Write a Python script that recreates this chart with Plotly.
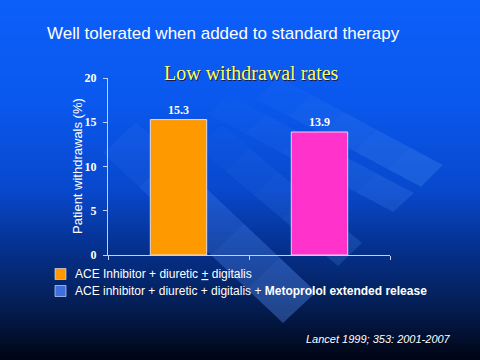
import plotly.graph_objects as go

# ---- data ----
categories = ["ACE Inhibitor + diuretic ± digitalis",
              "ACE inhibitor + diuretic + digitalis + Metoprolol extended release"]
withdrawals = [15.3, 13.9]
bar_colors = ["#FF9900", "#FF33CC"]
y_ticks = [0, 5, 10, 15, 20]
legend_labels = ["ACE Inhibitor + diuretic <u>+</u> digitalis",
                 "ACE inhibitor + diuretic + digitalis + <b>Metoprolol extended release</b>"]
legend_colors = ["#FF9900", "#3D6FE0"]

W, H = 480, 360
L, R, T, B = 108, 90, 78, 105
PW, PH = W - L - R, H - T - B


def px(x):
    return (x - L) / PW


def py(y):
    return (H - B - y) / PH


fig = go.Figure()
fig.add_trace(go.Bar(
    x=[0, 1], y=withdrawals,
    marker=dict(color=bar_colors, line=dict(color="rgba(235,235,255,0.85)", width=1)),
    text=[f"{v:.1f}" for v in withdrawals], textposition="outside",
    textfont=dict(family="Liberation Serif", size=12, color="white", weight="bold"),
    cliponaxis=False, width=0.4, showlegend=False, hoverinfo="skip",
))

shapes = []
# background vertical gradient (styling)
stops = [(0, (12, 95, 250)), (100, (10, 88, 238)), (190, (8, 72, 205)),
         (250, (5, 48, 140)), (300, (4, 32, 90)), (335, (2, 16, 50)), (360, (0, 4, 18))]


def col_at(y):
    for (y0, c0), (y1, c1) in zip(stops[:-1], stops[1:]):
        if y0 <= y <= y1:
            f = (y - y0) / (y1 - y0)
            return tuple(int(round(a + (b - a) * f)) for a, b in zip(c0, c1))
    return stops[-1][1]


step = 4
for y0 in range(0, H, step):
    c = col_at(y0 + step / 2)
    shapes.append(dict(type="rect", xref="paper", yref="paper", layer="below",
                       x0=px(0), x1=px(W), y0=py(y0 + step + 0.5), y1=py(y0),
                       fillcolor=f"rgb{c}", line=dict(width=0)))


def band(e1, e2, back, alpha, n=5):
    # decorative light band: end edge e1-e2, extending by vector `back`;
    # stacked translucent layers so it fades out away from the end edge
    for i in range(n):
        t1 = (i + 1) / n
        pts = [e1, e2,
               (e2[0] + back[0] * t1, e2[1] + back[1] * t1),
               (e1[0] + back[0] * t1, e1[1] + back[1] * t1)]
        path = "M " + " L ".join(f"{px(x)},{py(y)}" for x, y in pts) + " Z"
        shapes.append(dict(type="path", xref="paper", yref="paper", layer="below",
                           path=path, fillcolor=f"rgba(90,155,255,{alpha:.3f})",
                           line=dict(width=0)))


band((443, 165), (421, 187), (-165, -88), 0.055)
band((414, 193), (393, 212), (-185, -98), 0.045)
band((283, 323), (316, 292), (-180, -170), 0.085)
band((338, 266), (362, 243), (-140, -118), 0.045)

# legend squares
leg_y = [274, 291]
for yc, c in zip(leg_y, legend_colors):
    shapes.append(dict(type="rect", xref="paper", yref="paper",
                       x0=px(55), x1=px(66), y0=py(yc + 5.5), y1=py(yc - 5.5),
                       fillcolor=c, line=dict(color="rgba(220,230,255,0.8)", width=0.8)))

annotations = [
    dict(text="Well tolerated when added to standard therapy", xref="paper", yref="paper",
         x=px(45), y=py(33), xanchor="left", yanchor="middle", showarrow=False,
         font=dict(family="Liberation Sans", size=17, color="white")),
    dict(text="Low withdrawal rates", xref="paper", yref="paper",
         x=px(252), y=py(74), xanchor="center", yanchor="middle", showarrow=False,
         font=dict(family="Liberation Serif", size=20, color="#1a1a40")),
    dict(text="Low withdrawal rates", xref="paper", yref="paper",
         x=px(251), y=py(73), xanchor="center", yanchor="middle", showarrow=False,
         font=dict(family="Liberation Serif", size=20, color="#FFFF66")),
    dict(text="Patient withdrawals (%)", xref="paper", yref="paper",
         x=px(77), y=py(166), xanchor="center", yanchor="middle", showarrow=False,
         textangle=-90, font=dict(family="Liberation Sans", size=13, color="white")),
    dict(text="Lancet 1999; 353: 2001-2007", xref="paper", yref="paper",
         x=px(453), y=py(339), xanchor="right", yanchor="middle", showarrow=False,
         font=dict(family="Liberation Sans", size=11, color="white", style="italic")),
]
for yc, t in zip(leg_y, legend_labels):
    annotations.append(dict(text=t, xref="paper", yref="paper", x=px(73), y=py(yc),
                            xanchor="left", yanchor="middle", showarrow=False,
                            font=dict(family="Liberation Sans", size=12, color="white")))

fig.update_layout(
    width=W, height=H, margin=dict(l=L, r=R, t=T, b=B),
    paper_bgcolor="#0A50D0", plot_bgcolor="rgba(0,0,0,0)",
    shapes=shapes, annotations=annotations,
    xaxis=dict(range=[-0.5, 1.5], tickvals=[-0.5, 0.5, 1.5], ticktext=["", "", ""],
               showgrid=False, zeroline=False, showline=True, linecolor="#C8D0E8",
               linewidth=1, ticks="outside", ticklen=4, tickcolor="#C8D0E8", fixedrange=True),
    yaxis=dict(range=[0, 20], tickvals=y_ticks, showgrid=False, zeroline=False,
               showline=True, linecolor="#C8D0E8", linewidth=1, ticks="outside",
               ticklen=4, tickcolor="#C8D0E8", ticklabelstandoff=4,
               tickfont=dict(family="Liberation Serif", size=12, color="white", weight="bold"),
               fixedrange=True),
    showlegend=False,
)

fig.write_html("out.html", config={"displayModeBar": False},
               post_script="document.body.style.margin='0';document.body.style.overflow='hidden';")
